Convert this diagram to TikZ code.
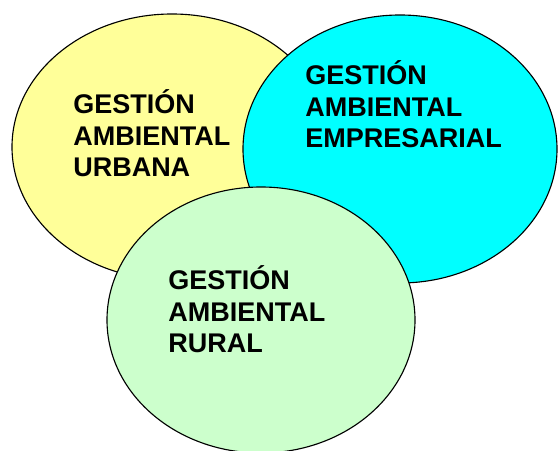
\documentclass[tikz,border=0pt]{standalone}
\usepackage{fontspec}
\setmainfont{Liberation Sans}
\definecolor{urbanyellow}{HTML}{FFFF99}
\definecolor{empresacyan}{HTML}{00FFFF}
\definecolor{ruralgreen}{HTML}{CCFFCC}
\tikzset{
  zone/.style = {draw=black, line width=0.8pt},
  zone text/.style = {anchor=base west, align=left, inner sep=0pt,
    font=\fontsize{19.2}{22.6}\selectfont\bfseries}
}

\begin{document}
\begin{tikzpicture}[x=0.025cm, y=-0.025cm]
\useasboundingbox (0,0) rectangle (560,451);
\coordinate (urbana) at (172,147);
\coordinate (empresarial) at (400,149);
\coordinate (rural) at (261,320);
\draw[zone, fill=urbanyellow] (urbana) ellipse [x radius=160, y radius=133];
\draw[zone, fill=empresacyan] (empresarial) ellipse [x radius=157, y radius=134];
\draw[zone, fill=ruralgreen] (rural) ellipse [x radius=154, y radius=133];
\node[zone text] (urbanatext) at (73,177) {GESTIÓN\\AMBIENTAL\\URBANA};
\node[zone text] (empresarialtext) at (305,148) {GESTIÓN\\AMBIENTAL\\EMPRESARIAL};
\node[zone text] (ruraltext) at (168,353) {GESTIÓN\\AMBIENTAL\\RURAL};
\end{tikzpicture}
\end{document}
